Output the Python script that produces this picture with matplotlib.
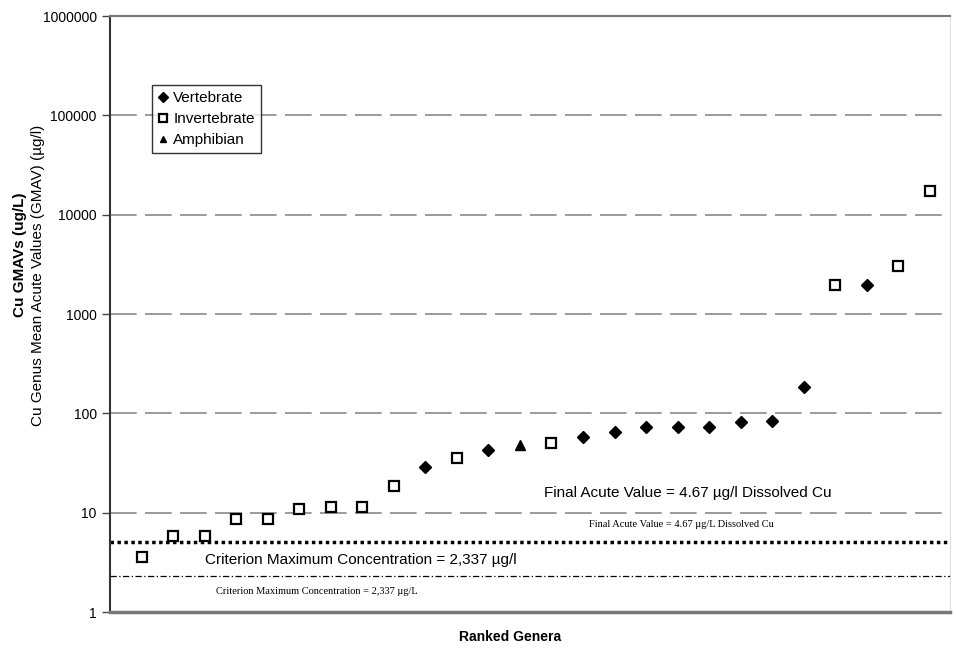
import matplotlib
matplotlib.use("Agg")
import matplotlib.pyplot as plt
from matplotlib.ticker import FixedLocator, FixedFormatter, NullLocator

plt.rcParams['font.family'] = ['Liberation Sans', 'DejaVu Sans']

# ranked genera (1 = most sensitive), group, GMAV in ug/l
rank = list(range(1, 27))
group = ['I', 'I', 'I', 'I', 'I', 'I', 'I', 'I', 'I', 'V',
         'I', 'V', 'A', 'I', 'V', 'V', 'V', 'V', 'V', 'V',
         'V', 'V', 'I', 'V', 'I', 'I']
gmav = [3.6, 5.8, 5.8, 8.6, 8.7, 10.9, 11.4, 11.4, 18.6, 29,
        35.7, 43, 48, 50, 58, 65, 73, 73, 73, 82,
        84, 185, 1970, 1970, 3040, 17300]

fav_line = 5.1     # dotted line
cmc_line = 2.3     # dash-dot line
grid_vals = [10, 100, 1000, 10000, 100000]
ytick_vals = [1, 10, 100, 1000, 10000, 100000, 1000000]
ytick_labels = ['1', '10', '100', '1000', '10000', '100000', '1000000']

fig = plt.figure(figsize=(9.56, 6.5), dpi=100)
ax = fig.add_axes([110/956, 38/650, 840/956, 596/650])

# grid lines
for g in grid_vals:
    ax.axhline(g, color='#8a8a8a', lw=1.2, dashes=(16, 5), zorder=1)

ax.axhline(fav_line, color='black', lw=2.5, linestyle=(0, (1, 1)), zorder=2)
ax.axhline(cmc_line, color='black', lw=0.9, linestyle=(0, (5, 2, 1, 2)), zorder=2)

vx = [r for r, g in zip(rank, group) if g == 'V']
vy = [v for v, g in zip(gmav, group) if g == 'V']
ix = [r for r, g in zip(rank, group) if g == 'I']
iy = [v for v, g in zip(gmav, group) if g == 'I']
ax_ = [r for r, g in zip(rank, group) if g == 'A']
ay = [v for v, g in zip(gmav, group) if g == 'A']

ax.plot(vx, vy, 'D', ms=6.5, color='black', mec='black', label='Vertebrate', zorder=3)
ax.plot(ix, iy, 's', ms=7, mfc='white', mec='black', mew=1.6, label='Invertebrate', zorder=3)
ax.plot(ax_, ay, '^', ms=6.5, color='black', label='Amphibian', zorder=3)

ax.set_yscale('log')
ax.set_ylim(1, 1000000)
ax.set_xlim(0, 26.64)
ax.yaxis.set_major_locator(FixedLocator(ytick_vals))
ax.yaxis.set_major_formatter(FixedFormatter(ytick_labels))
ax.yaxis.set_minor_locator(NullLocator())
ax.set_xticks([])
ax.tick_params(axis='y', direction='out', length=6, width=1, colors='#444444',
               labelcolor='black', labelsize=10)

ax.spines['left'].set_color('#333333')
ax.spines['left'].set_linewidth(1.5)
ax.spines['bottom'].set_color('#777777')
ax.spines['bottom'].set_linewidth(2.5)
ax.spines['top'].set_color('#777777')
ax.spines['top'].set_linewidth(1.5)
ax.spines['right'].set_color('#dddddd')
ax.spines['right'].set_linewidth(0.8)

leg = ax.legend(loc='upper left', bbox_to_anchor=(0.050, 0.884), frameon=True,
                fancybox=False, fontsize=11, handlelength=0.7, handletextpad=0.3,
                borderpad=0.4, labelspacing=0.45, borderaxespad=0, markerscale=0.75)
leg.get_frame().set_edgecolor('black')
leg.get_frame().set_linewidth(1)

ax.text(0.688, 0.200, 'Final Acute Value = 4.67 µg/l Dissolved Cu', transform=ax.transAxes,
        ha='center', va='center', fontsize=11)
ax.text(0.680, 0.146, 'Final Acute Value = 4.67 µg/L Dissolved Cu', transform=ax.transAxes,
        ha='center', va='center', fontsize=7.5, family='Liberation Serif')
ax.text(0.299, 0.087, 'Criterion Maximum Concentration = 2,337 µg/l', transform=ax.transAxes,
        ha='center', va='center', fontsize=11)
ax.text(0.246, 0.035, 'Criterion Maximum Concentration = 2,337 µg/L', transform=ax.transAxes,
        ha='center', va='center', fontsize=7.5, family='Liberation Serif')

fig.text(20/956, 1 - 255/650, 'Cu GMAVs (ug/L)', rotation=90, ha='center', va='center',
         fontsize=11, fontweight='bold')
fig.text(38/956, 1 - 275/650, 'Cu Genus Mean Acute Values (GMAV) (µg/l)', rotation=90,
         ha='center', va='center', fontsize=11)
fig.text(510/956, 1 - 637/650, 'Ranked Genera', ha='center', va='center',
         fontsize=10, fontweight='bold')

fig.savefig('out.png', dpi=100)
